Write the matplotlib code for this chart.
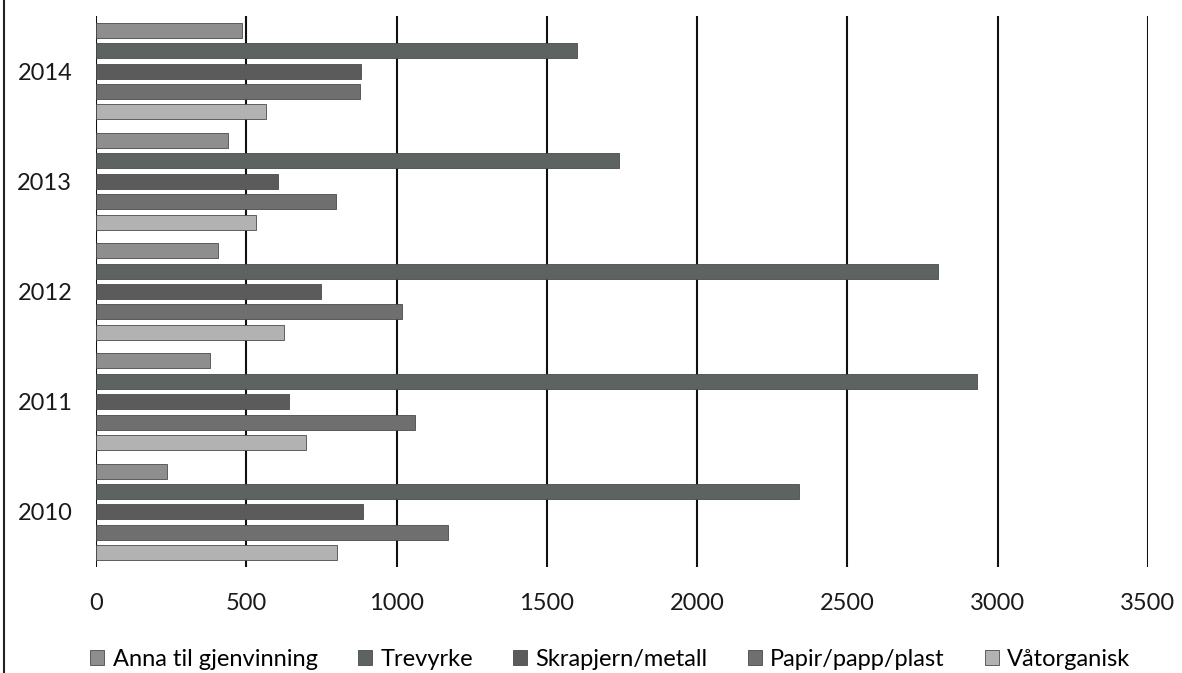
import numpy as np
import matplotlib.pyplot as plt
from matplotlib.lines import Line2D

plt.rcParams['font.family'] = ['Lato', 'DejaVu Sans']

years = ["2010", "2011", "2012", "2013", "2014"]
series = ["Anna til gjenvinning", "Trevyrke", "Skrapjern/metall",
          "Papir/papp/plast", "Våtorganisk"]
anna = [236, 378, 407, 440, 487]
trevyrke = [2340, 2930, 2800, 1740, 1600]
skrapjern = [887, 641, 750, 604, 883]
papir = [1170, 1060, 1019, 798, 877]
vatorganisk = [802, 698, 626, 533, 567]
values = [anna, trevyrke, skrapjern, papir, vatorganisk]
colors = ["#8e8e8e", "#5d6361", "#5b5b5b", "#6f6f6f", "#b2b2b2"]
xticks = [0, 500, 1000, 1500, 2000, 2500, 3000, 3500]

fig = plt.figure(figsize=(11.82, 6.73), dpi=100)
ax = fig.add_axes([0.0812, 0.1575, 0.8900, 0.8187])

y = np.arange(len(years))
step = 0.185
height = 0.136
for j, (name, vals, col) in enumerate(zip(series, values, colors)):
    ax.barh(y + (2 - j) * step, vals, height=height, color=col,
            edgecolor="#4a4a4a", linewidth=0.6, label=name, zorder=3)

ax.set_xlim(0, 3500)
ax.set_ylim(-0.5, 4.5)
ax.set_xticks(xticks)
ax.set_xticklabels([str(t) for t in xticks])
ax.set_yticks(y)
ax.set_yticklabels(years)
ax.xaxis.grid(True, color="#111111", linewidth=1.5, zorder=1)
ax.set_axisbelow(True)
for s in ax.spines.values():
    s.set_visible(False)
ax.tick_params(axis="both", length=0, labelsize=17, colors="#1a1a1a")
ax.tick_params(axis="x", pad=19)
ax.tick_params(axis="y", pad=17)

ax.legend(loc="center", bbox_to_anchor=(0.489, -0.168), ncol=5,
          frameon=False, fontsize=17, handlelength=0.6, handleheight=0.6,
          handletextpad=0.35, columnspacing=1.7, borderpad=0)

# scanned page border on the left
fig.add_artist(Line2D([0.003, 0.003], [0, 1], color="#222222", linewidth=1.5))

fig.savefig("out.png", dpi=100)
